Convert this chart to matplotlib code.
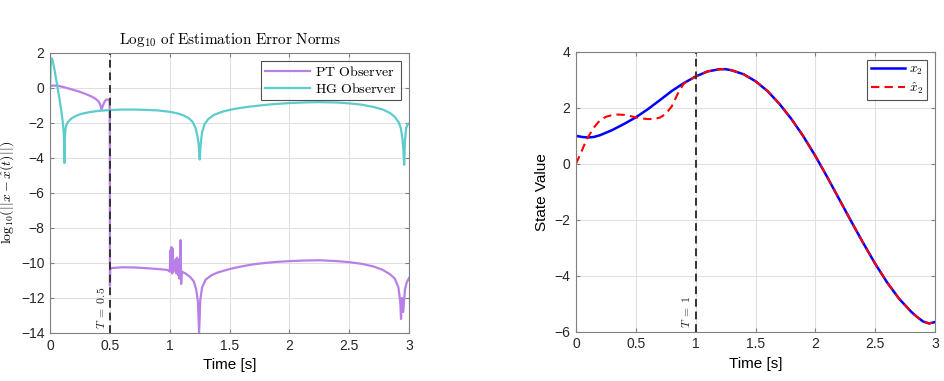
import numpy as np
import matplotlib.pyplot as plt

plt.rcParams['font.family'] = ['Liberation Sans', 'DejaVu Sans']
plt.rcParams['mathtext.fontset'] = 'cm'

# ---- left panel: log10 of estimation error norms ----
pt_t = [0.0, 0.03, 0.07, 0.12, 0.18, 0.24, 0.30, 0.35, 0.38, 0.40, 0.415, 0.425, 0.43,
        0.44, 0.455, 0.47, 0.485, 0.497, 0.499, 0.5, 0.502, 0.51,
        0.6, 0.7, 0.8, 0.9, 0.98, 1.0, 1.005, 1.01, 1.015, 1.02, 1.025, 1.03, 1.035,
        1.04, 1.05, 1.055, 1.06, 1.065, 1.07, 1.075, 1.08, 1.085, 1.09, 1.095, 1.1,
        1.13, 1.17, 1.2, 1.22, 1.235, 1.245, 1.255, 1.27, 1.3, 1.35, 1.4, 1.5, 1.6,
        1.7, 1.8, 1.9, 2.0, 2.1, 2.25, 2.4, 2.5, 2.6, 2.7, 2.78, 2.84, 2.88, 2.91,
        2.925, 2.932, 2.94, 2.95, 2.965, 2.98, 3.0]
pt_err = [0.1, 0.12, 0.1, 0.02, -0.1, -0.22, -0.37, -0.52, -0.64, -0.75, -0.9, -1.1, -1.25,
          -1.05, -0.8, -0.68, -0.68, -0.75, -3.0, -11.3, -10.4, -10.3,
          -10.25, -10.26, -10.3, -10.35, -10.4, -10.5, -9.3, -10.4, -9.1, -10.6, -9.2, -10.5, -9.9,
          -10.4, -9.8, -10.6, -9.7, -10.3, -10.7, -9.8, -10.9, -10.1, -8.7, -11.2, -10.5,
          -10.6, -10.8, -11.05, -11.5, -12.2, -14.0, -12.1, -11.4, -10.95, -10.7, -10.55, -10.35, -10.2,
          -10.08, -10.0, -9.94, -9.9, -9.87, -9.85, -9.9, -9.96, -10.05, -10.2, -10.4, -10.65, -10.9, -11.4,
          -12.2, -13.2, -12.0, -12.8, -11.5, -11.1, -10.85]

hg_t = [0.0, 0.005, 0.01, 0.02, 0.04, 0.06, 0.08, 0.095, 0.105, 0.112, 0.117, 0.12, 0.123,
        0.128, 0.135, 0.15, 0.18, 0.22, 0.27, 0.33, 0.4, 0.5, 0.6, 0.7, 0.8, 0.9, 1.0,
        1.07, 1.12, 1.16, 1.19, 1.215, 1.232, 1.242, 1.25, 1.258, 1.27, 1.29, 1.32, 1.37,
        1.45, 1.55, 1.65, 1.75, 1.85, 2.0, 2.15, 2.25, 2.4, 2.5, 2.6, 2.7, 2.78, 2.84, 2.88,
        2.91, 2.93, 2.943, 2.952, 2.958, 2.965, 2.975, 2.99, 3.0]
hg_err = [0.05, 1.2, 1.68, 1.6, 0.9, 0.1, -0.7, -1.4, -1.9, -2.4, -3.0, -4.3, -3.0,
          -2.4, -2.15, -1.95, -1.75, -1.6, -1.48, -1.4, -1.33, -1.28, -1.25, -1.25, -1.27, -1.3, -1.38,
          -1.48, -1.6, -1.75, -1.95, -2.3, -2.8, -3.3, -4.1, -3.2, -2.55, -2.1, -1.8, -1.55,
          -1.35, -1.2, -1.1, -1.02, -0.95, -0.88, -0.84, -0.83, -0.85, -0.9, -0.97, -1.1, -1.25, -1.45, -1.67,
          -1.95, -2.3, -2.9, -3.6, -4.4, -3.0, -2.3, -2.05, -2.05]

# ---- right panel: state x2 and its estimate ----
x2_t = [0.0, 0.05, 0.1, 0.15, 0.2, 0.3, 0.4, 0.5, 0.6, 0.7, 0.8, 0.9, 1.0, 1.1, 1.2, 1.25,
        1.3, 1.4, 1.5, 1.6, 1.7, 1.8, 1.9, 2.0, 2.1, 2.2, 2.3, 2.4, 2.5, 2.6, 2.7, 2.8,
        2.85, 2.9, 2.95, 3.0]
x2 = [1.0, 0.96, 0.94, 0.96, 1.02, 1.2, 1.42, 1.66, 1.95, 2.27, 2.6, 2.88, 3.12, 3.3, 3.38, 3.38,
      3.34, 3.2, 2.95, 2.6, 2.14, 1.6, 0.98, 0.28, -0.48, -1.27, -2.06, -2.83, -3.57, -4.24, -4.82,
      -5.28, -5.47, -5.63, -5.7, -5.65]
x2hat_t = [0.0, 0.04, 0.08, 0.1, 0.15, 0.2, 0.25, 0.3, 0.35, 0.4, 0.45, 0.5, 0.55, 0.6,
           0.65, 0.7, 0.75, 0.8, 0.85, 0.9, 0.95, 1.0, 1.1, 1.2, 1.25, 1.3, 1.4, 1.5, 1.6,
           1.7, 1.8, 1.9, 2.0, 2.1, 2.2, 2.3, 2.4, 2.5, 2.6, 2.7, 2.8, 2.85, 2.9, 2.95, 3.0]
x2hat = [0.0, 0.38, 0.78, 0.95, 1.3, 1.55, 1.68, 1.74, 1.76, 1.75, 1.71, 1.66, 1.62, 1.6,
         1.6, 1.65, 1.78, 2.05, 2.5, 2.86, 3.0, 3.12, 3.3, 3.38, 3.38, 3.34, 3.2, 2.95, 2.6,
         2.14, 1.6, 0.98, 0.28, -0.48, -1.27, -2.06, -2.83, -3.57, -4.24, -4.82, -5.28, -5.47,
         -5.63, -5.7, -5.65]

T_left = 0.5
T_right = 1.0

fig = plt.figure(figsize=(9.45, 3.81), dpi=100)
ax1 = fig.add_axes([0.053, 0.126, 0.380, 0.736])
ax2 = fig.add_axes([0.6095, 0.129, 0.380, 0.735])

purple = (0.72, 0.5, 0.9)
teal = (0.36, 0.8, 0.8)
edge = (0.5, 0.5, 0.5)

ax1.plot(pt_t, pt_err, color=purple, lw=1.6, label=r'$\mathrm{PT\ Observer}$')
ax1.plot(hg_t, hg_err, color=teal, lw=1.6, label=r'$\mathrm{HG\ Observer}$')
ax1.axvline(T_left, color=(0.2, 0.2, 0.2), ls='--', lw=1.4, dashes=(4, 2.5))
ax1.text(T_left - 0.02, -13.8, r'$T\;=\;0.5$', rotation=90, ha='right', va='bottom', fontsize=8.5,
         color=(0.15, 0.15, 0.15))
ax1.set_xlim(0, 3)
ax1.set_ylim(-14, 2)
ax1.set_yticks(np.arange(-14, 3, 2))
ax1.set_xticks([0, 0.5, 1, 1.5, 2, 2.5, 3])
ax1.set_xticklabels(['0', '0.5', '1', '1.5', '2', '2.5', '3'])
ax1.set_title(r'$\mathrm{Log_{10}\ of\ Estimation\ Error\ Norms}$', fontsize=11, pad=6)
ax1.set_xlabel('Time [s]', fontsize=11)
ax1.set_ylabel(r'$\mathrm{log}_{10}(||x-\hat{x}(t)||)$', fontsize=10)
ax1.yaxis.set_label_coords(-0.095, 0.5)
leg1 = ax1.legend(loc='upper right', fontsize=10, fancybox=False, edgecolor=(0.15, 0.15, 0.15),
                  handlelength=3.2, borderpad=0.3, labelspacing=0.2, handletextpad=0.4,
                  borderaxespad=0.6)
leg1.get_frame().set_linewidth(0.8)

ax2.plot(x2_t, x2, color='blue', lw=1.8, label=r'$x_2$')
ax2.plot(x2hat_t, x2hat, color='red', lw=1.5, ls='--', dashes=(4, 2.5), label=r'$\hat{x}_2$')
ax2.axvline(T_right, color=(0.2, 0.2, 0.2), ls='--', lw=1.4, dashes=(4, 2.5))
ax2.text(T_right - 0.025, -5.85, r'$T\;=\;1$', rotation=90, ha='right', va='bottom', fontsize=8.5,
         color=(0.15, 0.15, 0.15))
ax2.set_xlim(0, 3)
ax2.set_ylim(-6, 4)
ax2.set_yticks(np.arange(-6, 5, 2))
ax2.set_xticks([0, 0.5, 1, 1.5, 2, 2.5, 3])
ax2.set_xticklabels(['0', '0.5', '1', '1.5', '2', '2.5', '3'])
ax2.set_xlabel('Time [s]', fontsize=11)
ax2.set_ylabel('State Value', fontsize=11)
leg2 = ax2.legend(loc='upper right', fontsize=9.5, fancybox=False, edgecolor=(0.15, 0.15, 0.15),
                  handlelength=2.6, borderpad=0.3, labelspacing=0.2, handletextpad=0.3,
                  borderaxespad=0.6)
leg2.get_frame().set_linewidth(0.8)

for ax in (ax1, ax2):
    ax.grid(True, color=(0.88, 0.88, 0.88), lw=0.8)
    ax.set_axisbelow(True)
    ax.tick_params(direction='in', length=3, labelsize=10, top=True, right=True,
                   colors=(0.5, 0.5, 0.5), labelcolor=(0.15, 0.15, 0.15), pad=4)
    for s in ax.spines.values():
        s.set_color(edge)
        s.set_linewidth(0.8)

fig.savefig('out.png', dpi=100)
